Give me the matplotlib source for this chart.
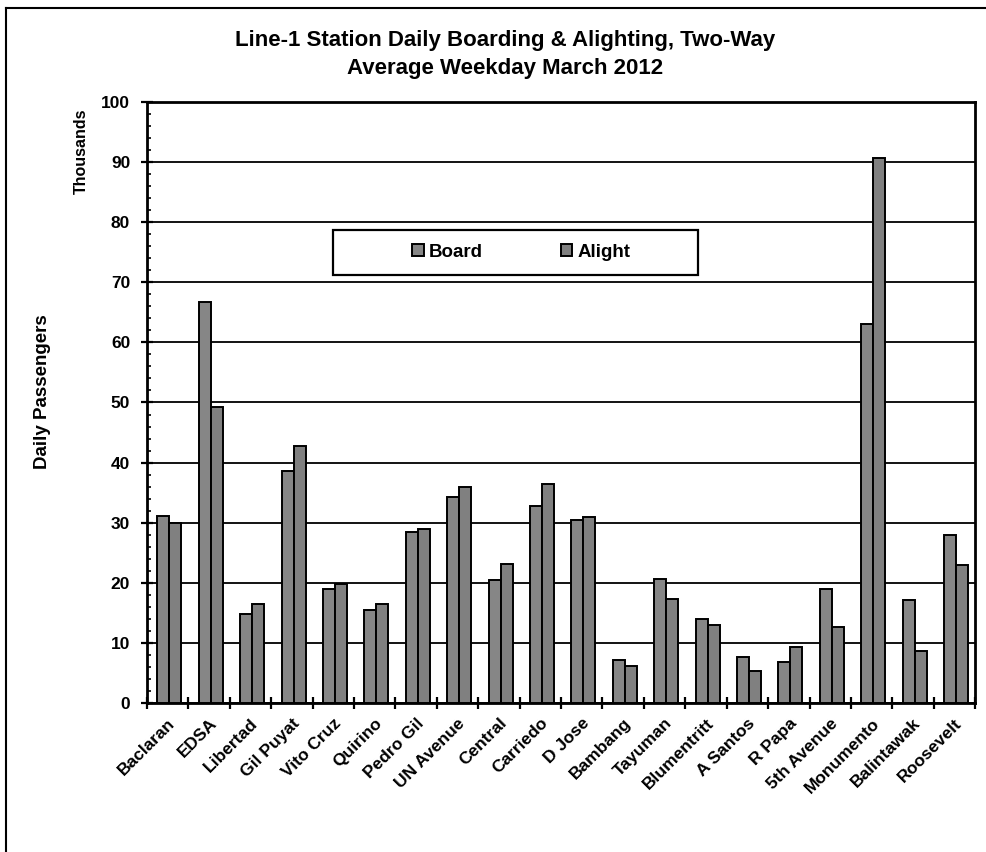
import numpy as np
import matplotlib.pyplot as plt
from matplotlib.ticker import MultipleLocator
from matplotlib.lines import Line2D
from matplotlib.patches import Rectangle

plt.rcParams['font.family'] = ['Liberation Sans', 'DejaVu Sans']
plt.rcParams['font.weight'] = 'bold'

stations = ["Baclaran", "EDSA", "Libertad", "Gil Puyat", "Vito Cruz", "Quirino",
            "Pedro Gil", "UN Avenue", "Central", "Carriedo", "D Jose", "Bambang",
            "Tayuman", "Blumentritt", "A Santos", "R Papa", "5th Avenue",
            "Monumento", "Balintawak", "Roosevelt"]
board = [31.1, 66.8, 14.8, 38.6, 19.0, 15.5, 28.4, 34.3, 20.4, 32.8, 30.4, 7.1,
         20.6, 13.9, 7.6, 6.9, 19.0, 63.1, 17.1, 27.9]
alight = [29.9, 49.2, 16.4, 42.8, 19.8, 16.4, 28.9, 36.0, 23.1, 36.5, 31.0, 6.2,
          17.3, 12.9, 5.3, 9.3, 12.7, 90.6, 8.6, 23.0]

fig = plt.figure(figsize=(9.86, 8.52), dpi=100)
ax = fig.add_axes([0.149, 0.1749, 0.840, 0.7054])

x = np.arange(len(stations))
w = 0.29
ax.bar(x - w / 2 + 0.04, board, w, color='#868686', edgecolor='black', linewidth=1.4,
       label='Board', zorder=3)
ax.bar(x + w / 2 + 0.04, alight, w, color='#808080', edgecolor='black', linewidth=1.4,
       label='Alight', zorder=3)

ax.set_xlim(-0.5, len(stations) - 0.5)
ax.set_ylim(0, 100)
ax.yaxis.set_major_locator(MultipleLocator(10))
ax.yaxis.set_minor_locator(MultipleLocator(2))
ax.grid(axis='y', which='major', color='black', linewidth=1.3, zorder=0)

ax.set_xticks(np.arange(len(stations) + 1) - 0.5)
ax.set_xticklabels([])
ax.set_xticks(x, minor=True)
ax.set_xticklabels(stations, minor=True, rotation=45, ha='right', rotation_mode='anchor',
                   fontsize=12.5, fontweight='bold')
ax.tick_params(axis='x', which='minor', length=0, pad=9)
ax.tick_params(axis='x', which='major', direction='inout', length=8, width=1.6)
ax.tick_params(axis='y', which='major', direction='inout', length=8, width=1.6,
               labelsize=12.5, pad=8)
ax.tick_params(axis='y', which='minor', direction='in', length=3, width=1.2)
for lab in ax.get_yticklabels():
    lab.set_fontweight('bold')

for s in ax.spines.values():
    s.set_linewidth(2)
    s.set_color('black')

fig.text(0.0436, 0.540, 'Daily Passengers', rotation=90, fontsize=13.5,
         fontweight='bold', ha='center', va='center')
fig.text(0.083, 0.822, 'Thousands', rotation=90, fontsize=11.5, fontweight='bold',
         ha='center', va='center')

fig.text(0.512, 0.952, 'Line-1 Station Daily Boarding & Alighting, Two-Way',
         fontsize=16, fontweight='bold', ha='center', va='center')
fig.text(0.512, 0.920, 'Average Weekday March 2012',
         fontsize=16, fontweight='bold', ha='center', va='center')

# legend box drawn separately so the wide padding matches
ax.add_patch(Rectangle((0.2246, 0.712), 0.4409, 0.075, transform=ax.transAxes,
                       facecolor='white', edgecolor='black', linewidth=1.6, zorder=4))
leg = ax.legend(loc='center', bbox_to_anchor=(0.452, 0.750), ncol=2, fontsize=13.5,
                frameon=False, handlelength=0.6, handleheight=0.6,
                handletextpad=0.25, columnspacing=4.2)
leg.set_zorder(5)
for t in leg.get_texts():
    t.set_fontweight('bold')

# page frame
fig.add_artist(Line2D([0.006, 1.0], [0.991, 0.991], transform=fig.transFigure,
                      color='black', linewidth=1.5))
fig.add_artist(Line2D([0.006, 0.006], [0.0, 0.991], transform=fig.transFigure,
                      color='black', linewidth=1.5))

fig.savefig('out.png', dpi=100)
